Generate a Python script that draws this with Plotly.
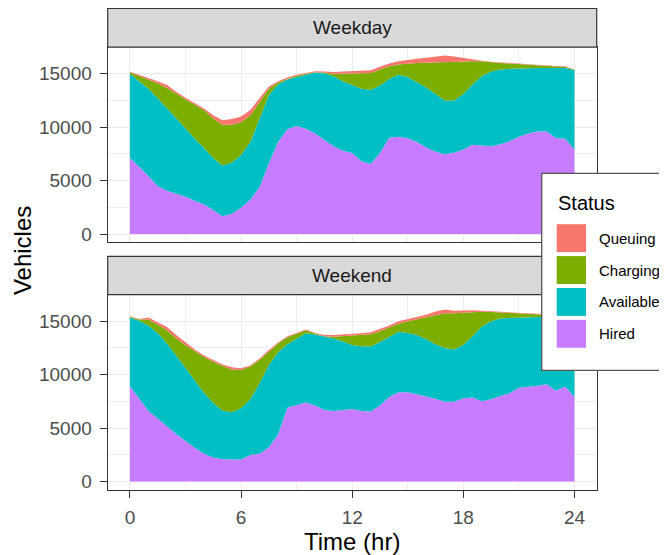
import plotly.graph_objects as go

# ---- data ----
hours = [0, 0.5, 1, 1.5, 2, 2.5, 3, 3.5, 4, 4.5, 5, 5.5, 6, 6.5, 7, 7.5, 8, 8.5, 9, 9.5,
         10, 10.5, 11, 11.5, 12, 12.5, 13, 13.5, 14, 14.5, 15, 15.5, 16, 16.5, 17, 17.5,
         18, 18.5, 19, 19.5, 20, 20.5, 21, 21.5, 22, 22.5, 23, 23.5, 24]

status = ["Hired", "Available", "Charging", "Queuing"]
colors = {"Queuing": "#F8766D", "Charging": "#7CAE00", "Available": "#00BFC4", "Hired": "#C77CFF"}

weekday_hired = [7100, 6300, 5400, 4500, 4050, 3750, 3480, 3100, 2750, 2250, 1650, 1900, 2450, 3200,
                 4400, 6600, 8600, 9800, 10100, 9850, 9400, 8800, 8200, 7800, 7580, 6800, 6550, 7580,
                 9000, 9100, 8950, 8600, 8100, 7700, 7450, 7600, 7900, 8360, 8300, 8200, 8400, 8670,
                 9100, 9400, 9600, 9600, 8990, 8900, 7900]
weekday_available = [7900, 8000, 8200, 8200, 7750, 7050, 6420, 5800, 5300, 4850, 4750, 4800, 4950, 5400,
                     6400, 6400, 5400, 4650, 4600, 5050, 5700, 6250, 6560, 6500, 6370, 6800, 6950, 6320,
                     5500, 5810, 5750, 5600, 5600, 5400, 5050, 4900, 5200, 5640, 6460, 7000, 7000, 6780,
                     6400, 6140, 5940, 5940, 6550, 6640, 7450]
weekday_charging = [130, 500, 900, 1400, 1870, 2300, 2700, 3200, 3550, 3700, 3830, 3530, 3050, 2500,
                    1600, 600, 200, 50, 100, 100, 30, 50, 240, 700, 1050, 1400, 1570, 1500,
                    1200, 940, 1250, 1800, 2310, 2950, 3600, 3630, 3060, 2160, 1400, 850, 600, 500,
                    400, 260, 210, 160, 110, 90, 30]
weekday_queuing = [60, 100, 100, 200, 280, 200, 150, 150, 150, 300, 420, 530, 550, 500,
                   300, 200, 100, 150, 100, 100, 100, 100, 160, 200, 230, 250, 250, 250,
                   250, 310, 350, 400, 490, 550, 590, 470, 310, 140, 60, 70, 80, 50,
                   50, 70, 50, 50, 70, 60, 20]

weekend_hired = [8900, 7700, 6600, 5900, 5140, 4450, 3800, 3150, 2600, 2250, 2080, 2050, 2050, 2490,
                 2600, 3200, 4400, 6900, 7150, 7400, 7100, 6700, 6600, 6700, 6780, 6600, 6540, 7100,
                 7900, 8350, 8350, 8160, 7950, 7750, 7450, 7450, 7800, 7850, 7500, 7700, 8000, 8250,
                 8780, 8850, 8950, 9100, 8500, 8880, 7900]
weekend_available = [6450, 7350, 8000, 8000, 7760, 7350, 6850, 6300, 5700, 5100, 4570, 4430, 4800, 5210,
                     6600, 7700, 7700, 5950, 6240, 6460, 6650, 6850, 6790, 6400, 6000, 6050, 6080, 5950,
                     5600, 5650, 5550, 5550, 5350, 5100, 5050, 4900, 5000, 5750, 7000, 7300, 7260, 7050,
                     6570, 6550, 6470, 6320, 6900, 6520, 7400]
weekend_charging = [30, 100, 550, 800, 1250, 1600, 2100, 2750, 3350, 3850, 4150, 4000, 3590, 3050,
                    2200, 1250, 800, 650, 470, 290, 100, 30, 160, 520, 920, 1090, 1160, 1000,
                    900, 750, 1100, 1490, 2030, 2750, 3230, 3400, 3000, 2250, 1390, 860, 560, 480,
                    380, 290, 240, 180, 150, 100, 50]
weekend_queuing = [80, 50, 200, 200, 300, 300, 250, 150, 150, 150, 150, 200, 160, 100,
                   100, 150, 100, 80, 60, 70, 50, 130, 160, 130, 100, 140, 190, 200,
                   200, 250, 220, 220, 270, 300, 370, 230, 230, 170, 90, 80, 70, 70,
                   70, 60, 60, 50, 50, 50, 50]

panels = [
    ("Weekday", {"Hired": weekday_hired, "Available": weekday_available,
                 "Charging": weekday_charging, "Queuing": weekday_queuing}),
    ("Weekend", {"Hired": weekend_hired, "Available": weekend_available,
                 "Charging": weekend_charging, "Queuing": weekend_queuing}),
]

x_ticks = [0, 6, 12, 18, 24]
y_ticks = [0, 5000, 10000, 15000]

# ---- layout helpers (screen pixel -> paper; the page body adds an 8px offset) ----
W, H = 667, 555
OFF = 8
def px(x):
    return (x - OFF) / W
def py(y):
    return 1 - (y - OFF) / H

FONT = "Liberation Sans, Arial, sans-serif"

fig = go.Figure()
for i, (name, series) in enumerate(panels):
    suffix = "" if i == 0 else str(i + 1)
    for s in status:
        fig.add_trace(go.Scatter(
            x=hours, y=series[s], name=s, mode="lines",
            stackgroup="g" + str(i), line=dict(width=0, color=colors[s]),
            fillcolor=colors[s], showlegend=False,
            xaxis="x" + suffix, yaxis="y" + suffix,
        ))

x_dom = [px(107.7), px(596.7)]
panel_y = [(47.3, 243.3), (295.7, 491.7)]
strip_y = [(8.3, 47.3), (257.3, 295.7)]
yrange = [-790, 17480]
xrange = [-1.2, 25.2]

axis_common = dict(
    showline=True, linecolor="#333333", linewidth=1.2, mirror=True,
    gridcolor="#EBEBEB", gridwidth=1.2, zeroline=False,
    tickfont=dict(family=FONT, size=19, color="#4D4D4D"),
    tickcolor="#333333", tickwidth=1.2, ticklen=7,
)

layout = dict(
    width=W, height=H, autosize=False,
    margin=dict(l=0, r=0, t=0, b=0),
    paper_bgcolor="white", plot_bgcolor="white",
    showlegend=False,
)

for i in range(2):
    suffix = "" if i == 0 else str(i + 1)
    y0, y1 = panel_y[i]
    xa = dict(axis_common, domain=x_dom, range=xrange, anchor="y" + suffix,
              tickmode="array", tickvals=x_ticks, ticktext=[str(v) for v in x_ticks],
              minor=dict(tickmode="array", tickvals=[3, 9, 15, 21], showgrid=True,
                         gridcolor="#EFEFEF", gridwidth=0.7, ticks=""))
    if i == 0:
        xa.update(showticklabels=False, ticks="")
    else:
        xa.update(ticks="outside", ticklabelstandoff=3)
    ya = dict(axis_common, domain=[py(y1), py(y0)], range=yrange, anchor="x" + suffix,
              tickmode="array", tickvals=y_ticks, ticktext=[str(v) for v in y_ticks],
              ticks="outside", ticklabelstandoff=4,
              minor=dict(tickmode="array", tickvals=[2500, 7500, 12500], showgrid=True,
                         gridcolor="#EFEFEF", gridwidth=0.7, ticks=""))
    layout["xaxis" + suffix] = xa
    layout["yaxis" + suffix] = ya

shapes = []
annotations = []
for i, (name, _) in enumerate(panels):
    s0, s1 = strip_y[i]
    shapes.append(dict(type="rect", xref="paper", yref="paper",
                       x0=x_dom[0], x1=x_dom[1], y0=py(s1), y1=py(s0),
                       fillcolor="#D9D9D9", line=dict(color="#333333", width=1.2), layer="above"))
    annotations.append(dict(text=name, xref="paper", yref="paper",
                            x=(x_dom[0] + x_dom[1]) / 2, y=py((s0 + s1) / 2),
                            showarrow=False, xanchor="center", yanchor="middle",
                            font=dict(family=FONT, size=19, color="#1A1A1A")))

# axis titles
annotations.append(dict(text="Vehicles", xref="paper", yref="paper", x=px(22), y=py(252),
                        textangle=-90, showarrow=False, xanchor="center", yanchor="middle",
                        font=dict(family=FONT, size=24, color="black")))
annotations.append(dict(text="Time (hr)", xref="paper", yref="paper", x=px(352), y=py(543),
                        showarrow=False, xanchor="center", yanchor="middle",
                        font=dict(family=FONT, size=24, color="black")))

# legend (drawn as a ggplot-style guide box)
shapes.append(dict(type="rect", xref="paper", yref="paper",
                   x0=px(541.7), x1=px(680), y0=py(371.7), y1=py(174),
                   fillcolor="white", line=dict(color="#555555", width=1.3), layer="above"))
annotations.append(dict(text="Status", xref="paper", yref="paper", x=px(555.5), y=py(204),
                        showarrow=False, xanchor="left", yanchor="middle",
                        font=dict(family=FONT, size=20, color="black")))
legend_order = ["Queuing", "Charging", "Available", "Hired"]
key_tops = [225, 257, 289, 321]
for s, kt in zip(legend_order, key_tops):
    shapes.append(dict(type="rect", xref="paper", yref="paper",
                       x0=px(556.7), x1=px(586), y0=py(kt + 28), y1=py(kt),
                       fillcolor=colors[s], line=dict(width=0), layer="above"))
    annotations.append(dict(text=s, xref="paper", yref="paper", x=px(596.5), y=py(kt + 14),
                            showarrow=False, xanchor="left", yanchor="middle",
                            font=dict(family=FONT, size=15, color="black")))

layout["shapes"] = shapes
layout["annotations"] = annotations
fig.update_layout(**layout)
fig.write_html("out.html")
